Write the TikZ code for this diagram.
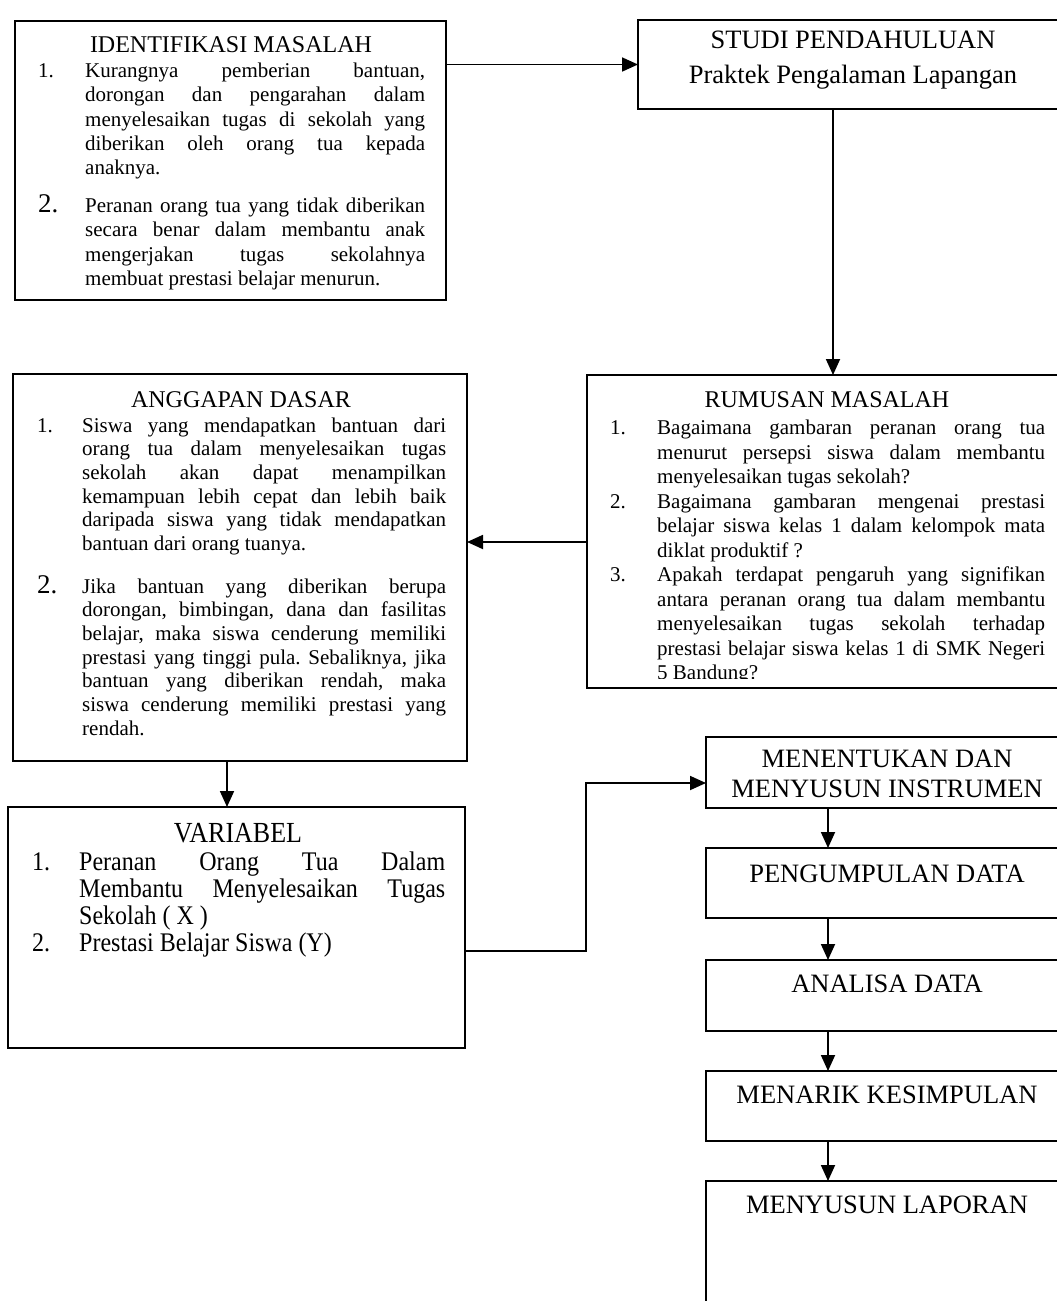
\documentclass[tikz,border=0pt]{standalone}
\usepackage{fontspec}
\usepackage{graphicx}
\setmainfont{Liberation Serif}
\usetikzlibrary{arrows.meta}
\newcommand{\fs}[2]{\fontsize{#1}{#2}\selectfont}
\newlength\twd
\newlength\nwd
\newcommand\Jl[1]{{\frenchspacing\spaceskip=.25em plus 1fil minus .06em\relax\makebox[\twd][s]{#1}}}
\newcommand\Nm[1]{\makebox[\nwd][l]{#1}}
\newcommand\myspc{\frenchspacing\spaceskip=.25em\relax}
\begin{document}
\begin{tikzpicture}[x=1pt,y=-1pt,
  box/.style={draw, line width=1.8pt, inner sep=0pt, outer sep=0pt, anchor=north west, rectangle},
  arr/.style={line width=1.8pt, -{Triangle[length=16pt,width=14pt]}},
  body/.style={anchor=north west, inner sep=0pt, align=left},
  ttl/.style={anchor=base, inner sep=0pt},
  big/.style={font=\fs{26.5}{30}}
]
\useasboundingbox (0,0) rectangle (1057,1301);
\clip (0,0) rectangle (1057,1301);

% ---------- boxes ----------
\node[box, minimum width=431pt, minimum height=279pt] (ident) at (15,21) {};
\node[box, minimum width=432pt, minimum height=89pt] (studi) at (638,20) {};
\node[box, minimum width=483pt, minimum height=313pt] (rumusan) at (587,375) {};
\node[box, minimum width=454pt, minimum height=387pt] (anggapan) at (13,374) {};
\node[box, minimum width=457pt, minimum height=241pt] (variabel) at (8,807) {};
\node[box, minimum width=364pt, minimum height=71pt] (menentukan) at (706,737) {};
\node[box, minimum width=364pt, minimum height=70pt] (pengumpulan) at (706,848) {};
\node[box, minimum width=364pt, minimum height=71pt] (analisa) at (706,960) {};
\node[box, minimum width=364pt, minimum height=70pt] (menarik) at (706,1071) {};
\node[box, minimum width=364pt, minimum height=200pt] (laporan) at (706,1181) {};

% ---------- IDENTIFIKASI MASALAH ----------
\node[ttl, font=\fs{24}{28}] (identttl) at (231,52) {IDENTIFIKASI MASALAH};
\node[body, text width=387pt, font=\fs{21}{24.3}] (identtxt) at (38,60.2) {%
\setlength\twd{340pt}\setlength\nwd{47pt}\myspc
\noindent\strut\Nm{1.}\Jl{Kurangnya pemberian bantuan,}\\
\Nm{}\Jl{dorongan dan pengarahan dalam}\\
\Nm{}\Jl{menyelesaikan tugas di sekolah yang}\\
\Nm{}\Jl{diberikan oleh orang tua kepada}\\
\Nm{}anaknya.\\[13.5pt]
\Nm{\fs{27}{24}2.}\Jl{Peranan orang tua yang tidak diberikan}\\
\Nm{}\Jl{secara benar dalam membantu anak}\\
\Nm{}\Jl{mengerjakan tugas sekolahnya}\\
\Nm{}membuat prestasi belajar menurun.};

% ---------- STUDI PENDAHULUAN ----------
\node[ttl, big] (studittl) at (853,48) {STUDI PENDAHULUAN};
\node[ttl, big] (studisub) at (853,83) {Praktek Pengalaman Lapangan};

% ---------- RUMUSAN MASALAH ----------
\node[ttl, font=\fs{24}{28}] (rumusanttl) at (827,407) {RUMUSAN MASALAH};
\begin{scope}
\clip (587,375) rectangle (1070,678.5);
\node[body, text width=435pt, font=\fs{21}{24.5}] (rumusantxt) at (610,417.3) {%
\setlength\twd{388pt}\setlength\nwd{47pt}\myspc
\noindent\strut\Nm{1.}\Jl{Bagaimana gambaran peranan orang tua}\\
\Nm{}\Jl{menurut persepsi siswa dalam membantu}\\
\Nm{}menyelesaikan tugas sekolah?\\
\Nm{2.}\Jl{Bagaimana gambaran mengenai prestasi}\\
\Nm{}\Jl{belajar siswa kelas 1 dalam kelompok mata}\\
\Nm{}diklat produktif ?\\
\Nm{3.}\Jl{Apakah terdapat pengaruh yang signifikan}\\
\Nm{}\Jl{antara peranan orang tua dalam membantu}\\
\Nm{}\Jl{menyelesaikan tugas sekolah terhadap}\\
\Nm{}\Jl{prestasi belajar siswa kelas 1 di SMK Negeri}\\
\Nm{}5 Bandung?};
\end{scope}

% ---------- ANGGAPAN DASAR ----------
\node[ttl, font=\fs{24}{28}] (anggapanttl) at (241,407) {ANGGAPAN DASAR};
\node[body, text width=409pt, font=\fs{21}{23.7}] (anggapantxt) at (37,415.4) {%
\setlength\twd{364pt}\setlength\nwd{45pt}\myspc
\noindent\strut\Nm{1.}\Jl{Siswa yang mendapatkan bantuan dari}\\
\Nm{}\Jl{orang tua dalam menyelesaikan tugas}\\
\Nm{}\Jl{sekolah akan dapat menampilkan}\\
\Nm{}\Jl{kemampuan lebih cepat dan lebih baik}\\
\Nm{}\Jl{daripada siswa yang tidak mendapatkan}\\
\Nm{}bantuan dari orang tuanya.\\[18.8pt]
\Nm{\fs{27}{24}2.}\Jl{Jika bantuan yang diberikan berupa}\\
\Nm{}\Jl{dorongan, bimbingan, dana dan fasilitas}\\
\Nm{}\Jl{belajar, maka siswa cenderung memiliki}\\
\Nm{}\Jl{prestasi yang tinggi pula. Sebaliknya, jika}\\
\Nm{}\Jl{bantuan yang diberikan rendah, maka}\\
\Nm{}\Jl{siswa cenderung memiliki prestasi yang}\\
\Nm{}rendah.};

% ---------- VARIABEL ----------
\node[ttl, font=\fs{26}{30}] (variabelttl) at (238,842) {\scalebox{1}[1.12]{VARIABEL}};
\node[body] (variabeltxt) at (32,851.1) {%
\scalebox{1}[1.12]{\begin{minipage}[t]{413pt}\fs{24}{24.1}%
\setlength\twd{366pt}\setlength\nwd{47pt}\myspc
\noindent\strut\Nm{1.}\Jl{Peranan Orang Tua Dalam}\\
\Nm{}\Jl{Membantu Menyelesaikan Tugas}\\
\Nm{}Sekolah ( X )\\
\Nm{2.}Prestasi Belajar Siswa (Y)\end{minipage}}};

% ---------- right column ----------
\node[ttl, big] (menentukan1) at (887,767) {MENENTUKAN DAN};
\node[ttl, big] (menentukan2) at (887,797) {MENYUSUN INSTRUMEN};
\node[ttl, big] (pengumpulanttl) at (887,882) {PENGUMPULAN DATA};
\node[ttl, big] (analisattl) at (887,992) {ANALISA DATA};
\node[ttl, big] (menarikttl) at (887,1103) {MENARIK KESIMPULAN};
\node[ttl, big] (laporanttl) at (887,1213) {MENYUSUN LAPORAN};

% ---------- connectors ----------
\coordinate (elbow) at (586,0);
\draw[arr] (ident.east |- studi.west) -- (studi.west);
\draw[arr] ([xshift=-21pt]studi.south) -- ([xshift=-21pt]studi.south |- rumusan.north);
\draw[arr] ([yshift=-10.5pt]rumusan.west) -- ([yshift=-10.5pt]rumusan.west -| anggapan.east);
\draw[arr] ([xshift=-13pt]anggapan.south) -- ([xshift=-13pt]anggapan.south |- variabel.north);
\draw[arr] ([yshift=-23.5pt]variabel.east) -- ([yshift=-23.5pt]variabel.east -| elbow) |- ([yshift=-10.5pt]menentukan.west);
\draw[arr] ([xshift=-60pt]menentukan.south) -- ([xshift=-60pt]menentukan.south |- pengumpulan.north);
\draw[arr] ([xshift=-60pt]pengumpulan.south) -- ([xshift=-60pt]pengumpulan.south |- analisa.north);
\draw[arr] ([xshift=-60pt]analisa.south) -- ([xshift=-60pt]analisa.south |- menarik.north);
\draw[arr] ([xshift=-60pt]menarik.south) -- ([xshift=-60pt]menarik.south |- laporan.north);
\end{tikzpicture}
\end{document}
